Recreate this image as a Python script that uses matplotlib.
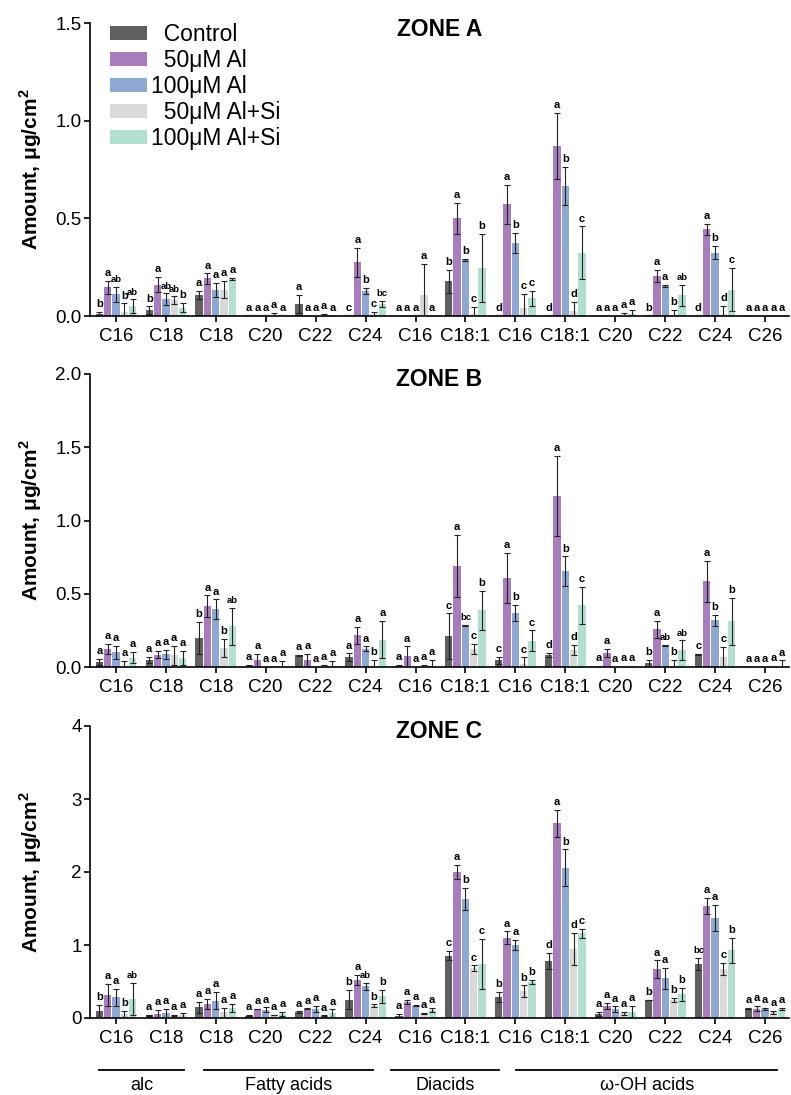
import matplotlib
matplotlib.use("Agg")
import matplotlib.pyplot as plt
import matplotlib.transforms as mtransforms
from matplotlib.patches import Patch
import numpy as np

plt.rcParams["font.family"] = ["Liberation Sans", "DejaVu Sans"]
plt.rcParams["mathtext.fontset"] = "custom"
plt.rcParams["mathtext.rm"] = "Liberation Sans"
plt.rcParams["mathtext.bf"] = "Liberation Sans:bold"

# x categories
categories = ["C16", "C18", "C18", "C20", "C22", "C24", "C16", "C18:1",
              "C16", "C18:1", "C20", "C22", "C24", "C26"]
treatments = ["Control", "50μM Al", "100μM Al", "50μM Al+Si", "100μM Al+Si"]
legend_labels = ["  Control", "  50μM Al", "100μM Al", "  50μM Al+Si", "100μM Al+Si"]
colors = ["#606060", "#a77dbe", "#8ea8d4", "#d9d9d9", "#b3dfd0"]

groups = ["alc", "Fatty acids", "Diacids", "ω-OH acids"]

# ZONE A (rows = treatments, cols = categories)
zone_a_mean = [
    [0.01, 0.029, 0.108, 0.003, 0.062, 0.003, 0.002, 0.178, 0.003, 0.003, 0.002, 0.003, 0.003, 0.002],
    [0.146, 0.161, 0.192, 0.003, 0.002, 0.274, 0.002, 0.50, 0.573, 0.87, 0.002, 0.205, 0.443, 0.002],
    [0.111, 0.086, 0.134, 0.003, 0.002, 0.127, 0.003, 0.289, 0.374, 0.665, 0.002, 0.154, 0.325, 0.002],
    [0.02, 0.08, 0.134, 0.005, 0.005, 0.01, 0.106, 0.01, 0.043, 0.026, 0.005, 0.005, 0.01, 0.002],
    [0.05, 0.043, 0.19, 0.003, 0.002, 0.063, 0.002, 0.246, 0.09, 0.325, 0.01, 0.106, 0.135, 0.002],
]
zone_a_err = [
    [0.012, 0.02, 0.02, 0, 0.045, 0, 0, 0.06, 0, 0, 0, 0, 0, 0],
    [0.035, 0.04, 0.026, 0, 0, 0.074, 0, 0.078, 0.1, 0.168, 0, 0.032, 0.027, 0],
    [0.04, 0.03, 0.036, 0, 0, 0.015, 0, 0.005, 0.052, 0.097, 0, 0.007, 0.035, 0],
    [0.045, 0.02, 0.044, 0.01, 0.005, 0.01, 0.16, 0.036, 0.07, 0.045, 0.01, 0.025, 0.04, 0],
    [0.035, 0.025, 0.005, 0, 0, 0.015, 0, 0.175, 0.04, 0.134, 0.02, 0.055, 0.11, 0],
]
zone_a_letters = [
    ["b", "b", "a", "a", "a", "c", "a", "b", "d", "d", "a", "b", "d", "a"],
    ["a", "a", "a", "a", "a", "a", "a", "a", "a", "a", "a", "a", "a", "a"],
    ["ab", "ab", "a", "a", "a", "b", "a", "b", "b", "b", "a", "a", "b", "a"],
    ["b", "ab", "a", "a", "a", "c", "a", "c", "c", "d", "a", "b", "d", "a"],
    ["ab", "b", "a", "a", "a", "bc", "a", "b", "c", "c", "a", "ab", "c", "a"],
]

# ZONE B
zone_b_mean = [
    [0.034, 0.05, 0.2, 0.005, 0.08, 0.068, 0.005, 0.21, 0.045, 0.08, 0.005, 0.027, 0.086, 0.002],
    [0.125, 0.084, 0.414, 0.045, 0.045, 0.216, 0.075, 0.69, 0.61, 1.168, 0.095, 0.257, 0.584, 0.002],
    [0.10, 0.086, 0.393, 0.003, 0.003, 0.125, 0.003, 0.284, 0.368, 0.655, 0.003, 0.148, 0.318, 0.002],
    [0.005, 0.08, 0.13, 0.003, 0.005, 0.01, 0.005, 0.125, 0.02, 0.118, 0.003, 0.01, 0.068, 0.005],
    [0.064, 0.064, 0.277, 0.005, 0.005, 0.186, 0.01, 0.386, 0.18, 0.42, 0.003, 0.114, 0.311, 0.01],
]
zone_b_err = [
    [0.02, 0.02, 0.11, 0.01, 0.005, 0.025, 0.01, 0.156, 0.023, 0.015, 0.005, 0.02, 0.005, 0],
    [0.035, 0.025, 0.075, 0.045, 0.045, 0.06, 0.066, 0.21, 0.17, 0.272, 0.03, 0.057, 0.142, 0],
    [0.045, 0.03, 0.068, 0, 0, 0.015, 0, 0.005, 0.057, 0.10, 0, 0.005, 0.038, 0],
    [0.035, 0.065, 0.06, 0, 0.01, 0.04, 0.01, 0.035, 0.045, 0.034, 0.005, 0.04, 0.068, 0.005],
    [0.04, 0.048, 0.125, 0.035, 0.035, 0.127, 0.04, 0.136, 0.07, 0.125, 0.005, 0.068, 0.16, 0.035],
]
zone_b_letters = [
    ["a", "a", "b", "a", "a", "a", "a", "c", "c", "d", "a", "b", "c", "a"],
    ["a", "a", "a", "a", "a", "a", "a", "a", "a", "a", "a", "a", "a", "a"],
    ["a", "a", "a", "a", "a", "a", "a", "bc", "b", "b", "a", "ab", "b", "a"],
    ["a", "a", "b", "a", "a", "b", "a", "c", "c", "d", "a", "b", "c", "a"],
    ["a", "a", "ab", "a", "a", "a", "a", "b", "c", "c", "a", "ab", "b", "a"],
]

# ZONE C
zone_c_mean = [
    [0.1, 0.037, 0.15, 0.032, 0.082, 0.25, 0.03, 0.854, 0.292, 0.78, 0.055, 0.247, 0.74, 0.13],
    [0.32, 0.06, 0.196, 0.123, 0.128, 0.516, 0.215, 2.0, 1.1, 2.667, 0.164, 0.67, 1.54, 0.13],
    [0.283, 0.068, 0.237, 0.114, 0.123, 0.434, 0.17, 1.63, 1.0, 2.06, 0.12, 0.543, 1.374, 0.123],
    [0.055, 0.037, 0.078, 0.04, 0.032, 0.17, 0.064, 0.68, 0.37, 0.945, 0.064, 0.247, 0.67, 0.078],
    [0.26, 0.045, 0.137, 0.055, 0.068, 0.297, 0.11, 0.74, 0.49, 1.16, 0.087, 0.324, 0.93, 0.123],
]
zone_c_err = [
    [0.08, 0.01, 0.075, 0.01, 0.01, 0.13, 0.03, 0.065, 0.068, 0.114, 0.025, 0.005, 0.087, 0.005],
    [0.15, 0.055, 0.07, 0.005, 0.005, 0.07, 0.03, 0.1, 0.085, 0.187, 0.04, 0.12, 0.11, 0.035],
    [0.115, 0.055, 0.12, 0.03, 0.04, 0.045, 0.01, 0.155, 0.068, 0.25, 0.04, 0.144, 0.18, 0.02],
    [0.04, 0.01, 0.06, 0.005, 0.005, 0.015, 0.01, 0.04, 0.078, 0.22, 0.02, 0.03, 0.08, 0.02],
    [0.22, 0.03, 0.06, 0.03, 0.05, 0.09, 0.025, 0.34, 0.03, 0.064, 0.075, 0.09, 0.17, 0.015],
]
zone_c_letters = [
    ["b", "a", "a", "a", "a", "b", "a", "c", "b", "d", "a", "b", "bc", "a"],
    ["a", "a", "a", "a", "a", "a", "a", "a", "a", "a", "a", "a", "a", "a"],
    ["a", "a", "a", "a", "a", "ab", "a", "b", "a", "b", "a", "a", "a", "a"],
    ["b", "a", "a", "a", "a", "b", "a", "c", "b", "d", "a", "b", "c", "a"],
    ["ab", "a", "a", "a", "a", "b", "a", "c", "b", "c", "a", "b", "b", "a"],
]

W, H = 791, 1095
fig = plt.figure(figsize=(W / 100, H / 100), dpi=100)

x = np.arange(len(categories))
pitch = 0.167
bar_w = 0.147


def draw_zone(ax, means, errs, letters, title, ymax, yticks, yticklabels):
    for i in range(len(treatments)):
        pos = x + (i - 2) * pitch
        ax.bar(pos, means[i], width=bar_w, color=colors[i], label=legend_labels[i], zorder=2)
        ax.errorbar(pos, means[i], yerr=errs[i], fmt="none", ecolor="#222222",
                    elinewidth=0.8, capsize=2.2, capthick=0.8, zorder=3)
        for j in range(len(categories)):
            lab = letters[i][j]
            # two-letter groupings are set a bit smaller, as in the source figure
            fs = 8 if len(lab) == 1 else 6.8
            ax.annotate(lab, (pos[j], means[i][j] + errs[i][j]),
                        xytext=(0, 2), textcoords="offset points",
                        ha="center", va="bottom", fontsize=fs, fontweight="bold")
    ax.set_xlim(-0.52, 13.48)
    ax.set_ylim(0, ymax)
    ax.set_yticks(yticks)
    ax.set_yticklabels(yticklabels)
    ax.set_xticks(x)
    ax.set_xticklabels(categories)
    for s in ["top", "right"]:
        ax.spines[s].set_visible(False)
    for s in ["left", "bottom"]:
        ax.spines[s].set_linewidth(1.2)
    ax.tick_params(axis="both", labelsize=13.5, width=1.2, length=4.5)
    ax.tick_params(axis="y", pad=1.5)
    ax.tick_params(axis="x", pad=4)
    ax.set_ylabel("Amount, μg/cm$^\\mathbf{2}$", fontsize=15, fontweight="bold")
    ax.yaxis.set_label_coords(-0.066, 0.5)
    ax.text(0.5, 1 - 6 / 293, title, transform=ax.transAxes, ha="center", va="center",
            fontsize=16.5, fontweight="bold")


left = 90 / W
width = 699 / W
hgt = 293 / H

ax_a = fig.add_axes([left, 1 - 316 / H, width, hgt])
draw_zone(ax_a, zone_a_mean, zone_a_err, zone_a_letters, "ZONE A", 1.5,
          [0, 0.5, 1.0, 1.5], ["0.0", "0.5", "1.0", "1.5"])
handles = [Patch(facecolor=c) for c in colors]
ax_a.legend(handles, legend_labels, loc="upper left", bbox_to_anchor=(0.028, 1.0),
            frameon=False, fontsize=16.5, handlelength=1.65, handleheight=0.55,
            handletextpad=0.15, labelspacing=0.13, borderpad=0, borderaxespad=0)

ax_b = fig.add_axes([left, 1 - 667 / H, width, hgt])
draw_zone(ax_b, zone_b_mean, zone_b_err, zone_b_letters, "ZONE B", 2.0,
          [0, 0.5, 1.0, 1.5, 2.0], ["0.0", "0.5", "1.0", "1.5", "2.0"])

ax_c = fig.add_axes([left, 1 - 1018 / H, width, 292 / H])
draw_zone(ax_c, zone_c_mean, zone_c_err, zone_c_letters, "ZONE C", 4,
          [0, 1, 2, 3, 4], ["0", "1", "2", "3", "4"])

# compound class brackets under the last panel
group_spans = [(-0.34, 1.36), (1.76, 5.14), (5.5, 7.68), (8.02, 13.24)]
trans = mtransforms.blended_transform_factory(ax_c.transData, fig.transFigure)
for name, (x0, x1) in zip(groups, group_spans):
    ax_c.plot([x0, x1], [1 - 1070 / H] * 2, color="black", lw=1.3,
              transform=trans, clip_on=False)
    ax_c.text((x0 + x1) / 2, 1 - 1086 / H, name, transform=trans,
              ha="center", va="center", fontsize=13)

fig.savefig("out.png", dpi=100)
